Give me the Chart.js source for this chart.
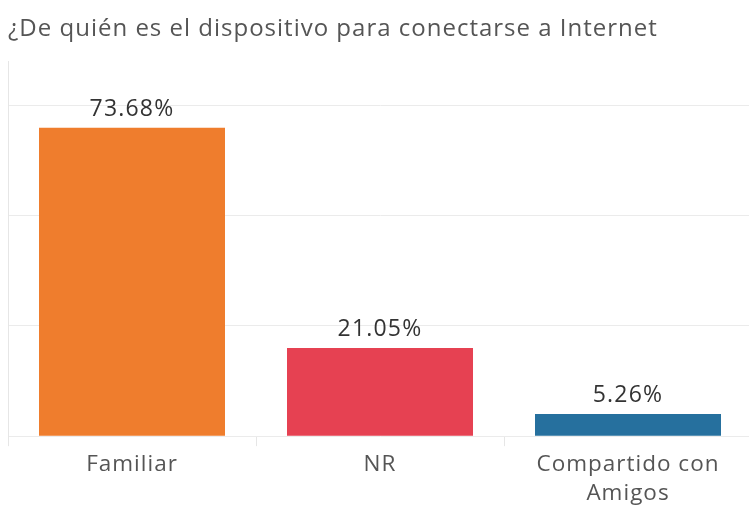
<!DOCTYPE html>
<html>
<head>
<meta charset="utf-8">
<script src="https://cdn.jsdelivr.net/npm/chart.js@4.4.1/dist/chart.umd.min.js"></script>
<style>
  html, body { margin: 0; padding: 0; background: #fff; overflow: hidden; }
  #wrap { width: 749px; height: 512px; overflow: hidden; }
  canvas { display: block; }
</style>
</head>
<body>
<div id="wrap"><canvas id="deviceChart" width="752" height="512"></canvas></div>
<script>
// Respondents per answer (19 in total) and the share labels shown on the bars
const categories = ['Familiar', 'NR', ['Compartido con', 'Amigos']];
const counts = [14, 4, 1];
const shareLabels = ['73.68%', '21.05%', '5.26%'];
const barColors = ['#EF7D2D', '#E64152', '#26709E'];

const fontFamily = "'Open Sans', 'Noto Sans', sans-serif";

// the original font runs wider than Open Sans, open the letters up a little
const spacing = {
    id: 'spacing',
    beforeDraw(chart) {
        chart.ctx.letterSpacing = '1px';
    }
};

// percentage above each bar
const valueLabels = {
    id: 'valueLabels',
    afterDatasetsDraw(chart) {
        const ctx = chart.ctx;
        const meta = chart.getDatasetMeta(0);
        ctx.save();
        ctx.letterSpacing = '1.2px';
        ctx.font = '23px ' + fontFamily;
        ctx.fillStyle = '#333333';
        ctx.textAlign = 'center';
        ctx.textBaseline = 'bottom';
        meta.data.forEach((bar, i) => {
            ctx.fillText(shareLabels[i], bar.x, bar.y - 7);
        });
        ctx.restore();
    }
};

const ctx = document.getElementById('deviceChart').getContext('2d');

new Chart(ctx, {
    type: 'bar',
    data: {
        labels: categories,
        datasets: [{
            data: counts,
            backgroundColor: barColors,
            borderWidth: 0,
            categoryPercentage: 1,
            barPercentage: 0.75
        }]
    },
    options: {
        responsive: false,
        animation: false,
        layout: { padding: { left: 8, right: 0, top: 0, bottom: 0 } },
        plugins: {
            legend: { display: false },
            tooltip: { enabled: false },
            title: {
                display: true,
                text: '¿De quién es el dispositivo para conectarse a Internet',
                align: 'start',
                color: '#555555',
                font: { family: fontFamily, size: 24, weight: 'normal', lineHeight: 1.15 },
                padding: { top: 15, bottom: 19 }
            }
        },
        scales: {
            x: {
                grid: {
                    drawOnChartArea: false,
                    drawTicks: true,
                    tickLength: 10,
                    color: '#e6e6e6'
                },
                border: { display: false },
                ticks: {
                    color: '#555555',
                    padding: 3,
                    maxRotation: 0,
                    font: { family: fontFamily, size: 22.5, lineHeight: 1.33 }
                }
            },
            y: {
                min: 0,
                max: 17,
                ticks: { display: false, stepSize: 5 },
                grid: {
                    drawTicks: false,
                    color: (c) => (c.tick && c.tick.value === 17 ? 'rgba(0,0,0,0)' : '#ebebeb')
                },
                border: { display: true, color: '#e6e6e6' }
            }
        }
    },
    plugins: [spacing, valueLabels]
});
</script>
</body>
</html>
